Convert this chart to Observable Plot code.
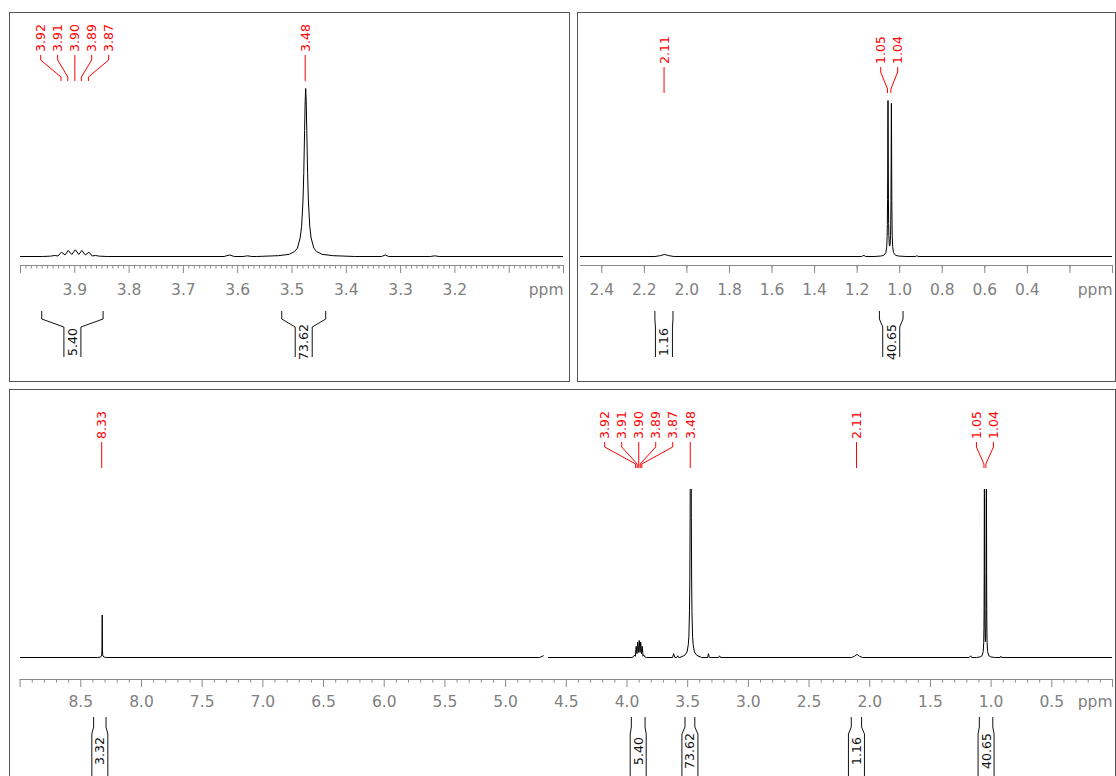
<!DOCTYPE html>
<html>
<head>
<meta charset="utf-8">
<script src="https://cdn.jsdelivr.net/npm/d3@7"></script>
<script src="https://cdn.jsdelivr.net/npm/@observablehq/plot@0.6"></script>
<style>
html,body{margin:0;padding:0;background:#fff;width:1116px;height:776px;overflow:hidden;position:relative;font-family:"DejaVu Sans",sans-serif}
.box{position:absolute;box-sizing:border-box;border:1.5px solid #555}
svg.plot{position:absolute}
</style>
</head>
<body>
<div class="box" style="left:9px;top:12px;width:561px;height:370px"></div>
<div class="box" style="left:577px;top:12px;width:539px;height:370px"></div>
<div class="box" style="left:9px;top:389px;width:1107px;height:400px"></div>
<script>
// ---- spectrum (chemical shift in ppm, relative intensity) ----
const spectrumPpm = [
  9.000,
  8.360, 8.340, 8.330, 8.3275, 8.3255, 8.3245, 8.3240, 8.3235, 8.3230, 8.3225, 8.3215, 8.3195, 8.3170, 8.307, 8.290,
  4.720, 4.689, 4.680, 4.647,
  3.960, 3.945, 3.937, 3.931, 3.9245, 3.918, 3.912, 3.9055, 3.899, 3.8925, 3.887, 3.8805, 3.874, 3.868, 3.862, 3.855, 3.840,
  3.625, 3.6155, 3.606, 3.590, 3.582, 3.574,
  3.565, 3.525, 3.505, 3.495, 3.490, 3.485, 3.4823, 3.4798, 3.4783, 3.4768, 3.4758, 3.4748, 3.4738, 3.4728, 3.4713, 3.4698, 3.4673, 3.4648, 3.4598, 3.4548, 3.4448, 3.4248, 3.385,
  3.335, 3.3285, 3.322,
  3.245, 3.237, 3.229,
  2.150, 2.125, 2.112, 2.105, 2.098, 2.085, 2.060,
  1.180, 1.168, 1.160,
  1.120, 1.090, 1.075, 1.065, 1.061, 1.059, 1.058, 1.057, 1.0565, 1.056, 1.0555, 1.055, 1.0545, 1.054, 1.053, 1.052, 1.051, 1.049, 1.047,
  1.045, 1.043, 1.042, 1.041, 1.040, 1.0395, 1.039, 1.0385, 1.038, 1.037, 1.036, 1.035, 1.033, 1.029, 1.019, 1.004, 0.970,
  0.925, 0.919, 0.913,
  0.000
];
const spectrumIntensity = [
  0,
  0, 0.1, 0.3, 0.6, 2, 5, 8, 10, 8, 5, 2, 0.6, 0.3, 0.1, 0,
  0, 0.4, NaN, 0,
  0, 0.2, 0.6, 0.3, 2.6, 0.9, 3.6, 1.2, 4.0, 1.2, 3.6, 0.9, 2.6, 0.3, 0.6, 0.2, 0,
  0, 0.9, 0, 0, 0.4, 0,
  0, 0.5, 1.3, 3, 5, 11, 18, 33, 50, 75, 92, 100, 92, 75, 50, 33, 18, 11, 5, 3, 1.3, 0.5, 0,
  0, 0.9, 0,
  0, 0.4, 0,
  0, 0.3, 0.6, 0.7, 0.6, 0.3, 0,
  0, 0.4, 0,
  0, 0.15, 0.4, 1.4, 3.5, 7.1, 11.3, 20.2, 27.9, 38.5, 49.9, 55.5, 50, 38.6, 20.4, 11.7, 7.6, 4.4, 3.7,
  4.4, 7.5, 11.5, 20.0, 37.9, 49.1, 54.5, 49.0, 37.8, 19.8, 11.2, 7.0, 3.5, 1.4, 0.4, 0.15, 0,
  0, 0.3, 0,
  0
];

// ---- peak picking labels ----
const peakLabelPpm  = [8.3235, 3.9245, 3.912, 3.899, 3.887, 3.874, 3.4748, 2.105, 1.055, 1.039];
const peakLabelText = ["8.33", "3.92", "3.91", "3.90", "3.89", "3.87", "3.48", "2.11", "1.05", "1.04"];

// ---- integrals ----
const integralFrom  = [8.390, 3.960, 3.518, 2.148, 1.093];
const integralTo    = [8.288, 3.847, 3.437, 2.063, 0.982];
const integralValue = ["3.32", "5.40", "73.62", "1.16", "40.65"];

// ---- axis tick labels per panel ----
const tickLabelsA = [3.9, 3.8, 3.7, 3.6, 3.5, 3.4, 3.3, 3.2];
const tickLabelsB = [2.4, 2.2, 2.0, 1.8, 1.6, 1.4, 1.2, 1.0, 0.8, 0.6, 0.4];
const tickLabelsC = [8.5, 8.0, 7.5, 7.0, 6.5, 6.0, 5.5, 5.0, 4.5, 4.0, 3.5, 3.0, 2.5, 2.0, 1.5, 1.0, 0.5];

const spectrum = spectrumPpm.map((p, i) => ({ppm: p, intensity: spectrumIntensity[i]}));

const FONT = "DejaVu Sans, sans-serif";
const AXIS_GRAY = "#8a8a8a";
const LABEL_GRAY = "#808080";

const rangeTicks = (lo, hi, step, keep) => d3.range(Math.round(lo / step), Math.round(hi / step) + 1)
  .map(i => +(i * step).toFixed(3)).filter(keep);

const panels = [
  {left: 9, top: 12, width: 561, height: 369, ml: 11, mr: 7, mt: 60, mb: 116,
   domain: [4.0, 3.0], yDomain: [0, 100], yRange: [244, 76], axisDy: 9, labelPad: 18,
   major: rangeTicks(3.0, 4.0, 0.1, () => true),
   minor: rangeTicks(3.0, 4.0, 0.01, v => Math.abs(v * 10 - Math.round(v * 10)) > 1e-6),
   labels: tickLabelsA, labelBase: 40,
   br: {oT: 299, oB: 307, iT: 315, iB: 345, tc: 330, h: 8.5}},
  {left: 577, top: 12, width: 539, height: 369, ml: 3, mr: 4, mt: 60, mb: 116,
   domain: [2.5, 0.0], yDomain: [0, 55.5], yRange: [244, 88], axisDy: 9, labelPad: 18,
   major: rangeTicks(0, 2.4, 0.2, () => true),
   minor: rangeTicks(0.1, 2.5, 0.2, () => true),
   labels: tickLabelsB, labelBase: 52,
   br: {oT: 299, oB: 307, iT: 315, iB: 345, tc: 330, h: 8.5}},
  {left: 9, top: 389, width: 1107, height: 390, ml: 10.6, mr: 4, mt: 100, mb: 100,
   domain: [9.0, 0.0], yDomain: [0, 39.5], yRange: [268, 100], axisDy: 22, labelPad: 16,
   major: rangeTicks(0, 9, 0.5, () => true),
   minor: rangeTicks(0, 9, 0.1, v => Math.abs(v * 2 - Math.round(v * 2)) > 1e-6),
   labels: tickLabelsC, labelBase: 50,
   br: {oT: 328, oB: 338, iT: 345, iB: 430, tc: 362, h: 8}}
];

function spread(items, gap) {
  const clusters = [];
  for (const it of items) {
    clusters.push({items: [it], sum: it.px});
    while (clusters.length > 1) {
      const cur = clusters[clusters.length - 1], prev = clusters[clusters.length - 2];
      const curStart = cur.sum / cur.items.length - (cur.items.length - 1) / 2 * gap;
      const prevEnd = prev.sum / prev.items.length + (prev.items.length - 1) / 2 * gap;
      if (curStart - prevEnd < gap - 0.01) {
        prev.items.push(...cur.items); prev.sum += cur.sum; clusters.pop();
      } else break;
    }
  }
  for (const c of clusters) {
    const m = c.sum / c.items.length;
    c.items.forEach((it, j) => it.lx = m + (j - (c.items.length - 1) / 2) * gap);
  }
}

for (const P of panels) {
  const hi = Math.max(...P.domain), lo = Math.min(...P.domain);
  const svg = Plot.plot({
    width: P.width, height: P.height,
    marginLeft: P.ml, marginRight: P.mr, marginTop: P.mt, marginBottom: P.mb,
    style: {fontFamily: FONT, fontSize: "15.5px", background: "none", overflow: "visible"},
    x: {domain: P.domain, label: null},
    y: {domain: P.yDomain, range: P.yRange, axis: null, label: null},
    marks: [
      Plot.ruleY([0], {dy: P.axisDy, stroke: AXIS_GRAY, strokeWidth: 1}),
      Plot.axisX({ticks: P.minor, tickSize: 3.5, tickFormat: () => "", color: AXIS_GRAY, label: null}),
      Plot.axisX({ticks: P.major, tickSize: 8, tickFormat: () => "", color: AXIS_GRAY, label: null}),
      Plot.axisX({ticks: P.labels, tickSize: 0, tickPadding: P.labelPad, tickFormat: d => d.toFixed(1), color: LABEL_GRAY, fontSize: 15.5, label: null}),
      Plot.axisX({ticks: [P.domain[1]], tickSize: 0, tickPadding: P.labelPad, tickFormat: () => "ppm", textAnchor: "end", color: LABEL_GRAY, fontSize: 15.5, label: null}),
      Plot.line(spectrum, {x: "ppm", y: "intensity", stroke: "black", strokeWidth: 1, clip: true})
    ]
  });
  svg.classList.add("plot");
  svg.style.left = P.left + "px";
  svg.style.top = P.top + "px";
  svg.style.maxWidth = "none";
  document.body.appendChild(svg);

  const xs = svg.scale("x");
  const g = d3.select(svg).append("g").attr("font-family", FONT);

  // peak labels
  const items = peakLabelPpm.map((p, i) => ({p, text: peakLabelText[i]}))
    .filter(d => d.p <= hi && d.p >= lo)
    .map(d => ({...d, px: xs.apply(d.p)}))
    .sort((a, b) => a.px - b.px);
  spread(items, 17);
  const B = P.labelBase;
  for (const it of items) {
    const path = Math.abs(it.lx - it.px) < 0.3
      ? `M${it.px},${B + 3}V${B + 29}`
      : `M${it.lx},${B + 3}V${B + 8}L${it.px},${B + 25}V${B + 29}`;
    g.append("path").attr("d", path).attr("fill", "none").attr("stroke", "#ff0000").attr("stroke-width", 1);
    g.append("text").attr("transform", `translate(${it.lx},${B}) rotate(-90)`)
      .attr("text-anchor", "start").attr("dy", "0.36em").attr("fill", "#ff0000")
      .attr("font-size", 12.5).text(it.text);
  }

  // integrals
  const br = P.br;
  integralFrom.forEach((f, i) => {
    const t = integralTo[i];
    if (f > hi || t < lo) return;
    const xa = xs.apply(f), xb = xs.apply(t), c = (xa + xb) / 2;
    const d = `M${xa},${br.oT}V${br.oB}L${c - br.h},${br.iT}V${br.iB}M${xb},${br.oT}V${br.oB}L${c + br.h},${br.iT}V${br.iB}`;
    g.append("path").attr("d", d).attr("fill", "none").attr("stroke", "#111").attr("stroke-width", 1);
    g.append("text").attr("transform", `translate(${c},${br.tc}) rotate(-90)`)
      .attr("text-anchor", "middle").attr("dy", "0.36em").attr("fill", "#111")
      .attr("font-size", 12.5).text(integralValue[i]);
  });
}
</script>
</body>
</html>
